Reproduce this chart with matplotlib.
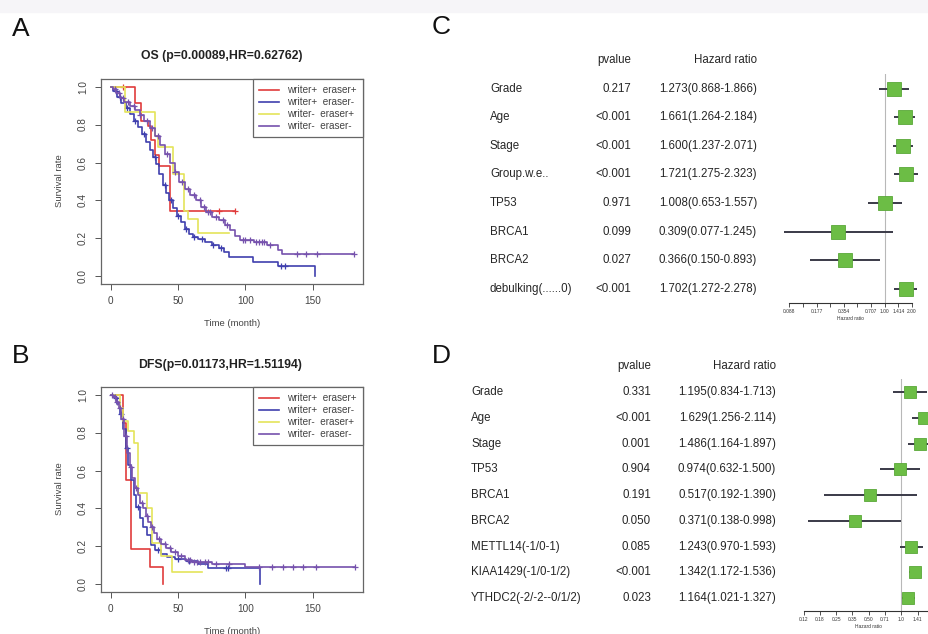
import numpy as np
import matplotlib
matplotlib.use("Agg")
import matplotlib.pyplot as plt
from matplotlib import transforms
from matplotlib.patches import Rectangle

plt.rcParams["font.family"] = ["Liberation Sans", "DejaVu Sans"]

# ---------------- Kaplan-Meier data ----------------
group_names = ["writer+  eraser+", "writer+  eraser-", "writer-  eraser+", "writer-  eraser-"]
group_colors = ["#e03c3c", "#3f3fae", "#e4e45a", "#7652ad"]

# OS panel: step times, survival after each step, last follow-up, censor times
os_red_t = [0, 18, 22.5, 27.5, 30, 32.5, 36, 44]
os_red_s = [1.0, 0.915, 0.82, 0.79, 0.72, 0.64, 0.58, 0.345]
os_red_end = 92
os_red_cens = [9, 80, 92]

os_blue_t = [0, 2, 5, 8, 11, 14, 17, 20, 23, 26, 29, 31.5, 33.5, 36, 38.5, 41, 43.5, 46,
             49, 52, 55, 58, 61, 65, 70, 75, 80, 84, 88, 105.5, 124, 151.5]
os_blue_s = [1.0, 0.975, 0.945, 0.915, 0.885, 0.855, 0.82, 0.785, 0.75, 0.71, 0.665, 0.63,
             0.59, 0.54, 0.48, 0.44, 0.40, 0.36, 0.32, 0.285, 0.25, 0.225, 0.21, 0.195,
             0.18, 0.165, 0.15, 0.13, 0.10, 0.077, 0.055, 0.0]
os_blue_end = 151.5
os_blue_cens = [4, 7, 12, 18, 25, 33, 40, 45, 50, 56, 62, 68, 76, 82, 126, 129]

os_yellow_t = [0, 10.5, 32.5, 35, 46, 54.5, 57, 65]
os_yellow_s = [1.0, 0.865, 0.74, 0.68, 0.54, 0.345, 0.30, 0.23]
os_yellow_end = 88
os_yellow_cens = []

os_purple_t = [0, 2, 4, 7, 10, 14, 18, 21.5, 25, 29, 32.5, 36.5, 40, 44, 47.5, 51, 55, 59,
               63, 67, 71, 75, 80, 85, 88.5, 92, 96, 106, 116, 124, 127]
os_purple_s = [1.0, 0.985, 0.965, 0.94, 0.92, 0.90, 0.875, 0.85, 0.82, 0.78, 0.74, 0.69,
               0.645, 0.60, 0.55, 0.50, 0.46, 0.43, 0.40, 0.365, 0.34, 0.315, 0.295, 0.27,
               0.245, 0.215, 0.19, 0.18, 0.165, 0.14, 0.12]
os_purple_end = 180.5
os_purple_cens = [3, 6, 9, 13, 17, 22, 27, 31, 35, 42, 48, 53, 57, 62, 66, 69, 72, 74, 78,
                  83, 86, 98, 100, 103, 108, 110, 112, 114, 118, 138, 145, 153, 180.5]

# DFS panel
dfs_red_t = [0, 9, 11, 15, 29, 38.5]
dfs_red_s = [1.0, 0.85, 0.55, 0.186, 0.093, 0.0]
dfs_red_end = 38.5
dfs_red_cens = []

dfs_blue_t = [0, 3, 5, 7, 9, 11, 13, 15, 17, 19, 21.5, 24, 27, 30, 33, 37, 42, 48, 56, 65,
              72, 110.5]
dfs_blue_s = [1.0, 0.98, 0.95, 0.90, 0.82, 0.72, 0.63, 0.55, 0.47, 0.41, 0.35, 0.305, 0.26,
              0.21, 0.18, 0.16, 0.145, 0.135, 0.125, 0.11, 0.086, 0.0]
dfs_blue_end = 110.5
dfs_blue_cens = [4, 8, 12, 20, 35, 50, 58, 85.5, 87]

dfs_yellow_t = [0, 7, 9, 12.5, 17, 20, 27, 31, 37, 45.5]
dfs_yellow_s = [1.0, 0.93, 0.86, 0.81, 0.744, 0.48, 0.405, 0.22, 0.15, 0.068]
dfs_yellow_end = 68
dfs_yellow_cens = []

dfs_purple_t = [0, 2, 4, 6, 8, 10, 12, 14, 16, 18, 20, 22, 24, 26, 28, 30, 32, 34, 37, 41,
                45, 50, 55, 60, 75, 100]
dfs_purple_s = [1.0, 0.985, 0.96, 0.93, 0.87, 0.78, 0.69, 0.62, 0.56, 0.51, 0.47, 0.43,
                0.40, 0.36, 0.33, 0.30, 0.27, 0.24, 0.215, 0.19, 0.17, 0.15, 0.13, 0.118,
                0.108, 0.092]
dfs_purple_end = 181
dfs_purple_cens = [1, 3, 5, 7, 9, 11, 15, 19, 23, 27, 31, 36, 40, 44, 48, 52, 57, 59, 62,
                   64, 66, 70, 72, 78, 88, 110, 120, 128, 135, 143, 152, 181]

km_xticks = [0, 50, 100, 150]
km_yticks = [0.0, 0.2, 0.4, 0.6, 0.8, 1.0]

# ---------------- Cox regression data ----------------
c_vars = ["Grade", "Age", "Stage", "Group.w.e..", "TP53", "BRCA1", "BRCA2", "debulking(......0)"]
c_pvals = ["0.217", "<0.001", "<0.001", "<0.001", "0.971", "0.099", "0.027", "<0.001"]
c_hr = [1.273, 1.661, 1.600, 1.721, 1.008, 0.309, 0.366, 1.702]
c_lo = [0.868, 1.264, 1.237, 1.275, 0.653, 0.077, 0.150, 1.272]
c_hi = [1.866, 2.184, 2.071, 2.323, 1.557, 1.245, 0.893, 2.278]
c_ticks = [0.088, 0.125, 0.177, 0.25, 0.354, 0.5, 0.707, 1.0, 1.414, 2.0]
c_ticklabels = ["0.088", "", "0.177", "", "0.354", "", "0.707", "1.00", "1.414", "2.00"]

d_vars = ["Grade", "Age", "Stage", "TP53", "BRCA1", "BRCA2", "METTL14(-1/0-1)",
          "KIAA1429(-1/0-1/2)", "YTHDC2(-2/-2--0/1/2)"]
d_pvals = ["0.331", "<0.001", "0.001", "0.904", "0.191", "0.050", "0.085", "<0.001", "0.023"]
d_hr = [1.195, 1.629, 1.486, 0.974, 0.517, 0.371, 1.243, 1.342, 1.164]
d_lo = [0.834, 1.256, 1.164, 0.632, 0.192, 0.138, 0.970, 1.172, 1.021]
d_hi = [1.713, 2.114, 1.897, 1.500, 1.390, 0.998, 1.593, 1.536, 1.327]
d_ticks = [0.125, 0.177, 0.25, 0.354, 0.5, 0.707, 1.0, 1.414]
d_ticklabels = ["0.12", "0.18", "0.25", "0.35", "0.50", "0.71", "1.0", "1.41"]

W, H = 929, 634
fig = plt.figure(figsize=(W / 100, H / 100), dpi=100)
fig.add_artist(Rectangle((0, 1 - 12 / H), 1, 12 / H, transform=fig.transFigure,
                         color="#f6f5f8", zorder=-5))


def fx(px):
    return px / W


def fy(py):
    return 1 - py / H


def km_panel(ax, curves):
    for (t, s, end, cens), col, name in zip(curves, group_colors, group_names):
        xs = list(t) + [end]
        ys = list(s) + [s[-1]]
        ax.step(xs, ys, where="post", color=col, lw=1.2, label=name)
        if cens:
            idx = np.searchsorted(t, cens, side="right") - 1
            ax.plot(cens, np.array(s)[idx], "+", color=col, ms=4.5, mew=0.9)
    ax.set_xlim(-7.2, 187.2)
    ax.set_ylim(-0.04, 1.04)
    ax.set_xticks(km_xticks)
    ax.set_yticks(km_yticks)
    ax.set_yticklabels(["%.1f" % v for v in km_yticks], rotation=90, va="center")
    ax.tick_params(length=4, width=0.7, colors="#555555", labelsize=7.2, labelcolor="#444444")
    ax.tick_params(axis="x", pad=5)
    ax.tick_params(axis="y", pad=5.5)
    for sp in ax.spines.values():
        sp.set_color("#666666")
        sp.set_linewidth(0.9)
    leg = ax.legend(loc="upper right", bbox_to_anchor=(1, 1), borderaxespad=0, fontsize=7.2,
                    handlelength=2.0, handletextpad=0.8, labelspacing=0.2, borderpad=0.6,
                    fancybox=False, edgecolor="#666666", framealpha=1)
    leg.get_frame().set_linewidth(0.9)
    for txt in leg.get_texts():
        txt.set_color("#444444")


# Panel A
axA = fig.add_axes([fx(101), fy(284), fx(262), 205 / H])
km_panel(axA, [(os_red_t, os_red_s, os_red_end, os_red_cens),
               (os_blue_t, os_blue_s, os_blue_end, os_blue_cens),
               (os_yellow_t, os_yellow_s, os_yellow_end, os_yellow_cens),
               (os_purple_t, os_purple_s, os_purple_end, os_purple_cens)])
fig.text(fx(222), fy(56), "OS (p=0.00089,HR=0.62762)", ha="center", va="center",
         fontsize=8.8, fontweight="bold", color="#222222")
fig.text(fx(60), fy(181), "Survival rate", rotation=90, ha="center", va="center",
         fontsize=6.8, color="#444444")
fig.text(fx(232), fy(323), "Time (month)", ha="center", va="center", fontsize=6.8,
         color="#444444")

# Panel B
axB = fig.add_axes([fx(101), fy(592), fx(262), 205 / H])
km_panel(axB, [(dfs_red_t, dfs_red_s, dfs_red_end, dfs_red_cens),
               (dfs_blue_t, dfs_blue_s, dfs_blue_end, dfs_blue_cens),
               (dfs_yellow_t, dfs_yellow_s, dfs_yellow_end, dfs_yellow_cens),
               (dfs_purple_t, dfs_purple_s, dfs_purple_end, dfs_purple_cens)])
fig.text(fx(220), fy(365), "DFS(p=0.01173,HR=1.51194)", ha="center", va="center",
         fontsize=8.8, fontweight="bold", color="#222222")
fig.text(fx(60), fy(489), "Survival rate", rotation=90, ha="center", va="center",
         fontsize=6.8, color="#444444")
fig.text(fx(232), fy(631), "Time (month)", ha="center", va="center", fontsize=6.8,
         color="#444444")


def forest_panel(ax, names, pvals, hr, lo, hi, ticks, ticklabels, xlim,
                 x_name, x_p, x_hr, ms):
    n = len(names)
    rows = np.arange(n)
    ax.set_xscale("log", base=2)
    ax.set_xlim(*xlim)
    ax.set_ylim(n - 0.5, -0.5)
    ax.axvline(1.0, color="#b8b8b8", lw=0.8, zorder=1)
    ax.hlines(rows, lo, hi, color="#3a3a48", lw=1.4, zorder=2, clip_on=False)
    ax.plot(hr, rows, "s", color="#6cbd45", mec="#5aa838", mew=0.6, ms=ms, zorder=3,
            clip_on=False)
    ax.set_xticks(ticks)
    ax.set_xticklabels(ticklabels)
    ax.xaxis.set_minor_locator(matplotlib.ticker.NullLocator())
    ax.set_yticks([])
    for side in ["top", "left", "right"]:
        ax.spines[side].set_visible(False)
    ax.spines["bottom"].set_color("#333333")
    ax.spines["bottom"].set_linewidth(0.8)
    ax.tick_params(axis="x", length=3, width=0.6, colors="#333333", labelsize=3.5, pad=1.5)
    ax.set_xlabel("Hazard ratio", fontsize=3.5, labelpad=1, color="#333333")
    ax.patch.set_alpha(0)

    trans = transforms.blended_transform_factory(fig.transFigure, ax.transData)
    kw = dict(transform=trans, va="center", fontsize=8.3, color="#262626")
    ax.text(x_p, -1, "pvalue", ha="right", **kw)
    ax.text(x_hr, -1, "Hazard ratio", ha="right", **kw)
    for i in range(n):
        ax.text(x_name, i, names[i], ha="left", **kw)
        ax.text(x_p, i, pvals[i], ha="right", **kw)
        ax.text(x_hr, i, "%.3f(%.3f-%.3f)" % (hr[i], lo[i], hi[i]), ha="right", **kw)


# Panel C
axC = fig.add_axes([fx(789), fy(303), fx(123), 228.6 / H])
forest_panel(axC, c_vars, c_pvals, c_hr, c_lo, c_hi, c_ticks, c_ticklabels,
             (2 ** -3.5, 2.0), fx(490), fx(631), fx(757), 9.5)

# Panel D
axD = fig.add_axes([fx(803.5), fy(611), fx(130.3), 231.8 / H])
forest_panel(axD, d_vars, d_pvals, d_hr, d_lo, d_hi, d_ticks, d_ticklabels,
             (2 ** -3, 2.0), fx(471), fx(651), fx(776), 8.8)

# Panel letters
fig.text(fx(12), fy(36), "A", fontsize=19, color="#111111")
fig.text(fx(12), fy(363), "B", fontsize=19, color="#111111")
fig.text(fx(432), fy(34), "C", fontsize=19, color="#111111")
fig.text(fx(432), fy(363), "D", fontsize=19, color="#111111")

fig.savefig("out.png", dpi=100)
